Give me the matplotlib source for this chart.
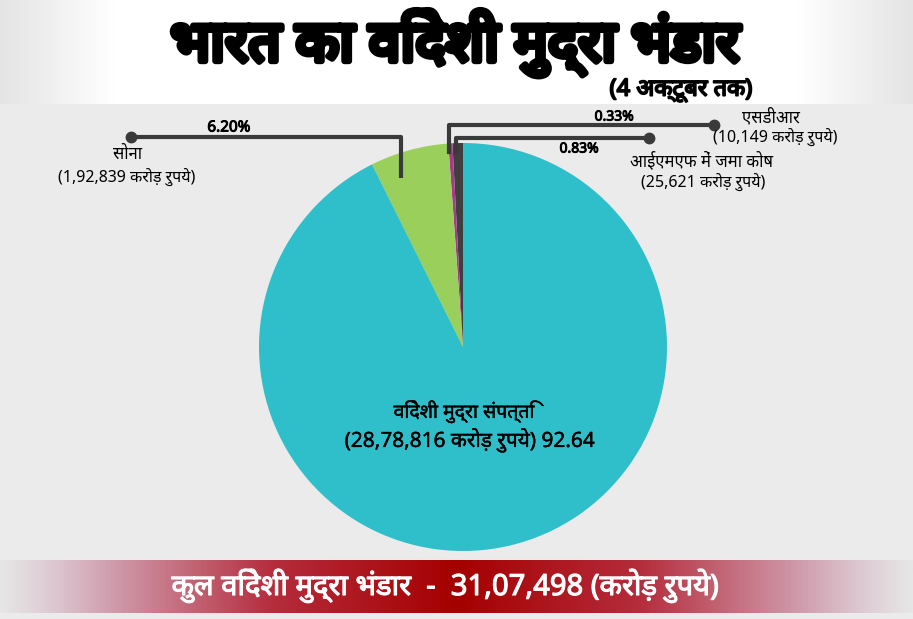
import numpy as np
import matplotlib
matplotlib.use("Agg")
import matplotlib.pyplot as plt
import matplotlib.patheffects as pe
from matplotlib import font_manager
from matplotlib.ft2font import FT2Font
from matplotlib.colors import LinearSegmentedColormap

# data (crore rupees, as of 4 Oct)
labels = ["आईएमएफ में जमा कोष", "एसडीआर", "सोना", "विदेशी मुद्रा संपत्ति"]
values = [25621, 10149, 192839, 2878816]
value_text = ["25,621", "10,149", "1,92,839", "28,78,816"]
pct_text = ["0.83%", "0.33%", "6.20%", "92.64"]
colors = ["#3f3f3f", "#a53b8a", "#9bcf5b", "#2fbfcb"]
total_text = "31,07,498"

# find a font that has Devanagari glyphs
deva = None
for f in font_manager.fontManager.ttflist:
    try:
        if 0x0915 in FT2Font(f.fname).get_charmap():
            deva = f.name
            break
    except Exception:
        pass
fam = ["Noto Sans"] + ([deva] if deva else []) + ["DejaVu Sans"]
plt.rcParams["font.family"] = fam

W, H = 913, 619
fig = plt.figure(figsize=(W / 100, H / 100), dpi=100)
ax = fig.add_axes([0, 0, 1, 1])
fig.patch.set_facecolor("#ebebeb")

def Y(y):
    return H - y

def bold(w, c="black"):
    return [pe.withStroke(linewidth=w, foreground=c)]

# header: white with grey edges
edge = np.abs(np.linspace(-1, 1, 400))
hdr = np.clip((edge - 0.75) / 0.25, 0, 1)[None, :]
cm_h = LinearSegmentedColormap.from_list("h", ["#ffffff", "#e4e4e4"])
ax.imshow(hdr, cmap=cm_h, extent=(0, W, Y(104), Y(0)), aspect="auto", zorder=0)

# bottom banner gradient
band = np.abs(np.linspace(-1, 1, 400))[None, :]
cm_b = LinearSegmentedColormap.from_list(
    "b", [(0, "#a50000"), (0.4, "#b52c3c"), (0.75, "#cf9aab"), (0.88, "#dcc6cf"), (0.95, "#e2dade"), (1, "#e6e6e6")])
ax.imshow(band, cmap=cm_b, extent=(0, W, Y(613), Y(560)), aspect="auto", zorder=0)

# pie
cx, cy, r = 463, Y(347), 204
ax.pie(values, colors=colors, startangle=90, counterclock=True,
       center=(cx, cy), radius=r, frame=True,
       wedgeprops=dict(linewidth=0))
ax.set_xlim(0, W)
ax.set_ylim(0, H)
ax.set_aspect("equal")
ax.axis("off")

# titles
ax.text(455, Y(43), "भारत का विदेशी मुद्रा भंडार", ha="center", va="center",
        fontsize=41, color="black", path_effects=bold(4.5))
ax.text(681, Y(90), "(4 अक्टूबर तक)", ha="center", va="center",
        fontsize=17, color="black", path_effects=bold(1.3))

lc = "#3a3a3a"
# gold leader
ax.plot([131, 401, 401], [Y(137), Y(137), Y(178)], color=lc, lw=3, solid_capstyle="butt")
ax.plot([131], [Y(137)], "o", color=lc, ms=7.5)
ax.text(229, Y(128), pct_text[2], ha="center", va="center", fontsize=11, path_effects=bold(0.7))
ax.text(127, Y(155), labels[2], ha="center", va="center", fontsize=12)
ax.text(127, Y(177), "(" + value_text[2] + " करोड़ रुपये)", ha="center", va="center", fontsize=11.5)

# SDR leader
ax.plot([449, 449, 714], [Y(152), Y(125), Y(125)], color=lc, lw=3)
ax.plot([714], [Y(125)], "o", color=lc, ms=7.5)
ax.text(614, Y(117), pct_text[1], ha="center", va="center", fontsize=10, path_effects=bold(0.7))
ax.text(771, Y(118), labels[1], ha="center", va="center", fontsize=12)
ax.text(775, Y(137), "(" + value_text[1] + " करोड़ रुपये)", ha="center", va="center", fontsize=11.5)

# IMF leader
ax.plot([456, 456, 649], [Y(152), Y(138), Y(138)], color=lc, lw=3)
ax.plot([649], [Y(138)], "o", color=lc, ms=7.5)
ax.text(579, Y(149), pct_text[0], ha="center", va="center", fontsize=10, path_effects=bold(0.7))
ax.text(702, Y(161), labels[0], ha="center", va="center", fontsize=12)
ax.text(703, Y(182), "(" + value_text[0] + " करोड़ रुपये)", ha="center", va="center", fontsize=11.5)

# main slice label
ax.text(464, Y(412), labels[3], ha="center", va="center", fontsize=14, path_effects=bold(0.3))
ax.text(470, Y(440), "(" + value_text[3] + " करोड़ रुपये) " + pct_text[3],
        ha="center", va="center", fontsize=15, path_effects=bold(0.3))

# banner text
ax.text(446, Y(586), "कुल विदेशी मुद्रा भंडार  -  " + total_text + " (करोड़ रुपये)",
        ha="center", va="center", fontsize=21, color="white", path_effects=bold(0.8, "white"))

fig.savefig("out.png", dpi=100, facecolor=fig.get_facecolor())
